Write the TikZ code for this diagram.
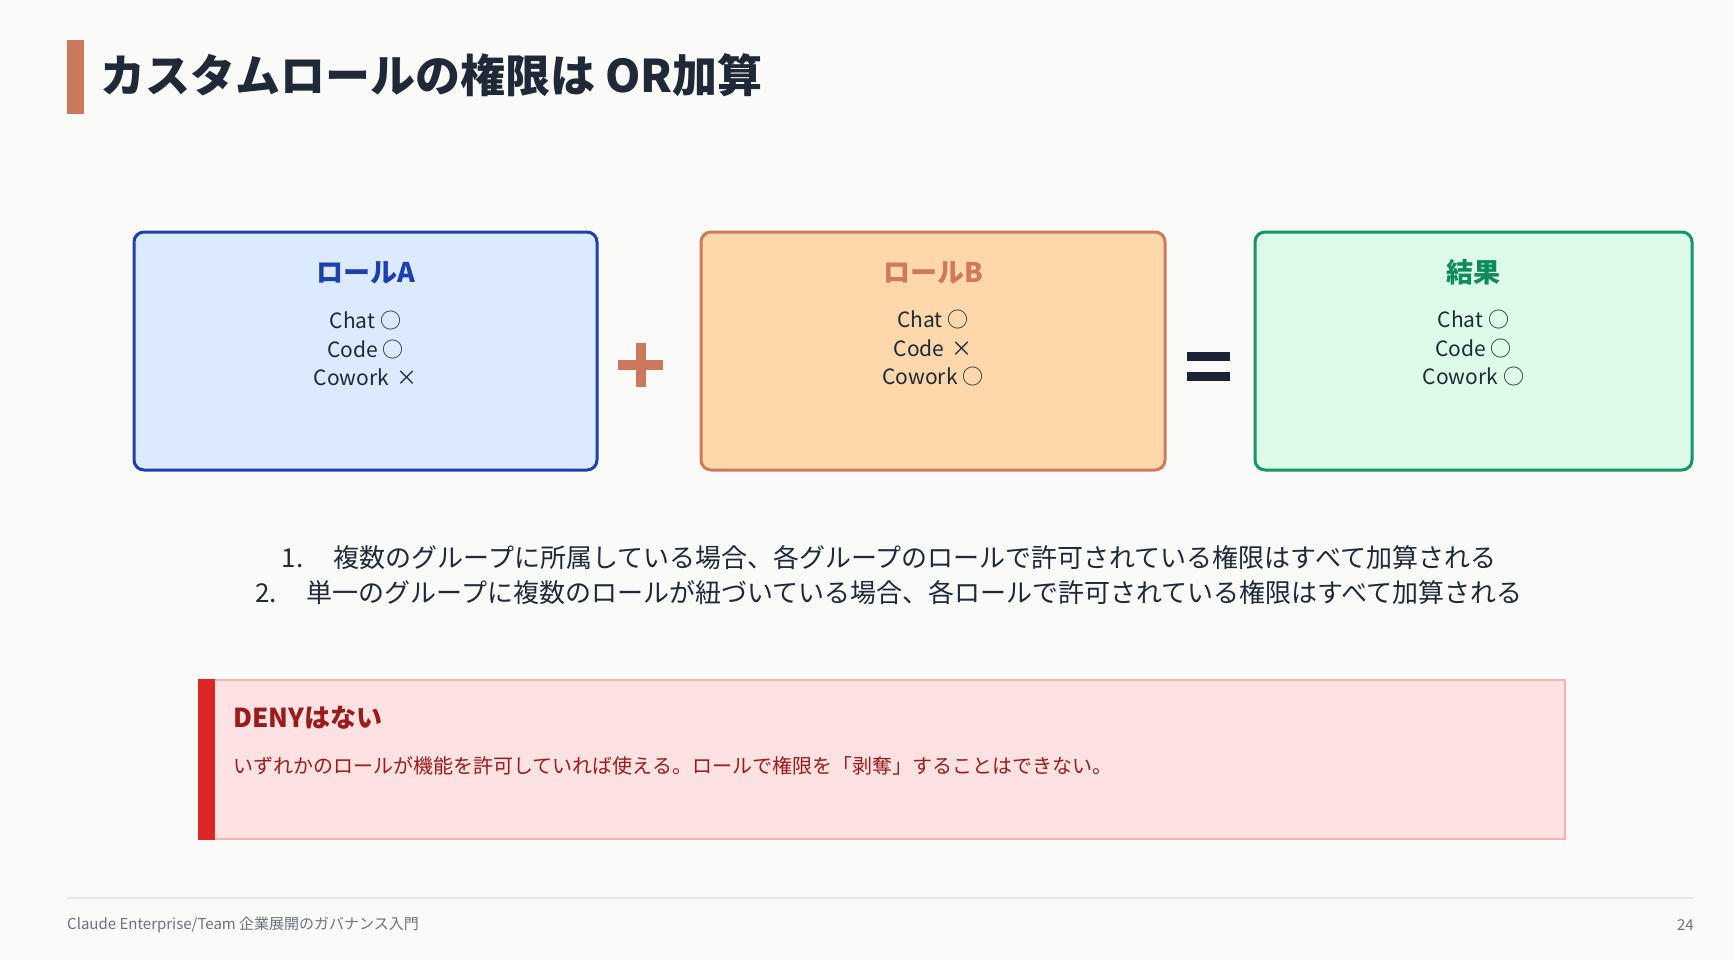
\documentclass[tikz,border=0pt]{standalone}
\usepackage{fontspec}
\setmainfont{Noto Sans CJK JP}
\usepackage{tikz}
\usetikzlibrary{positioning}
\definecolor{pageBg}{HTML}{FAFAF9}
\definecolor{accent}{HTML}{CC785C}
\definecolor{ink}{HTML}{1F2937}
\definecolor{opInk}{HTML}{1E2235}
\definecolor{roleAFill}{HTML}{DBEAFE}
\definecolor{roleAB}{HTML}{1E40AF}
\definecolor{roleBFill}{HTML}{FED7AA}
\definecolor{roleBB}{HTML}{CF7A5C}
\definecolor{resFill}{HTML}{DCFCE7}
\definecolor{resB}{HTML}{12966A}
\definecolor{resInk}{HTML}{0F8A5F}
\definecolor{denyFill}{HTML}{FEE2E2}
\definecolor{denyB}{HTML}{F8B4B4}
\definecolor{denyBar}{HTML}{DC2626}
\definecolor{denyInk}{HTML}{991B1B}
\definecolor{muted}{HTML}{6B7280}
\definecolor{ruleGray}{HTML}{E5E7EB}
\newcommand{\fsz}[2]{\fontsize{#1}{#2}\selectfont}
\newcommand{\yes}{\hspace{5pt}○}
\newcommand{\no}{\hspace{7pt}×}

\begin{document}
\begin{tikzpicture}[x=1pt, y=-1pt, rolebox/.style={draw, line width=3pt, rounded corners=10pt, minimum height=238pt, inner sep=0pt},ttl/.style={font=\fsz{27pt}{32pt}\bfseries, inner sep=0pt},itm/.style={font=\fsz{21pt}{28.5pt}, text=ink, align=center, inner sep=0pt},lst/.style={font=\fsz{26pt}{32pt}, text=ink, inner sep=0pt}]
\useasboundingbox (0,0) rectangle (1734,960);
\fill[pageBg] (0,0) rectangle (1734,960);
% title
\fill[accent] (67,40) rectangle (84,114);
\node[font=\fsz{45pt}{50pt}\bfseries, text=ink, anchor=west, inner sep=0pt] (title) at (100,75) {カスタムロールの権限は OR加算};
% the three roles
\node[rolebox, minimum width=463pt, fill=roleAFill, draw=roleAB] (roleA) at (365.5,351) {};
\node[rolebox, minimum width=464pt, fill=roleBFill, draw=roleBB, right=101pt of roleA] (roleB) {};
\node[rolebox, minimum width=437pt, fill=resFill, draw=resB, right=87pt of roleB] (result) {};
\node[ttl, text=roleAB] (ttlA) at ([yshift=-42pt]roleA.north) {ロールA};
\node[ttl, text=roleBB] (ttlB) at ([yshift=-42pt]roleB.north) {ロールB};
\node[ttl, text=resInk] (ttlR) at ([yshift=-42pt]result.north) {結果};
\node[itm] (itmA) at ([yshift=-118pt]roleA.north) {Chat\yes\\Code\yes\\Cowork\no};
\node[itm] (itmB) at ([yshift=-118pt]roleB.north) {Chat\yes\\Code\no\\Cowork\yes};
\node[itm] (itmR) at ([yshift=-118pt]result.north) {Chat\yes\\Code\yes\\Cowork\yes};
% plus / equals
\fill[accent] (618,360) rectangle (663,370);
\fill[accent] (635.5,343) rectangle (645.5,387);
\fill[opInk] (1187,352) rectangle (1230,361);
\fill[opInk] (1187,372) rectangle (1230,381);
% rules
\node[lst] (rule1) at (889,558) {1.\hspace{30pt}複数のグループに所属している場合、各グループのロールで許可されている権限はすべて加算される};
\node[lst] (rule2) at (889,593) {2.\hspace{30pt}単一のグループに複数のロールが紐づいている場合、各ロールで許可されている権限はすべて加算される};
% deny callout
\node[draw=denyB, line width=1.5pt, fill=denyFill, minimum width=1366pt, minimum height=159pt, inner sep=0pt] (deny) at (882,759.5) {};
\fill[denyBar] (deny.north west) rectangle ([xshift=17pt]deny.south west);
\node[font=\fsz{26pt}{30pt}\bfseries, text=denyInk, anchor=west, inner sep=0pt] (denyTtl) at (233,718) {DENYはない};
\node[font=\fsz{20pt}{24pt}, text=denyInk, anchor=west, inner sep=0pt] (denyTxt) at (233,766) {いずれかのロールが機能を許可していれば使える。ロールで権限を「剥奪」することはできない。};
% footer
\draw[ruleGray, line width=1.5pt] (67,898) -- (1694,898);
\node[font=\fsz{15pt}{18pt}, text=muted, anchor=west, inner sep=0pt] (foot) at (67,925) {Claude Enterprise/Team 企業展開のガバナンス入門};
\node[font=\fsz{15pt}{18pt}, text=muted, anchor=east, inner sep=0pt] (page) at (1694,925) {24};
\end{tikzpicture}
\end{document}
